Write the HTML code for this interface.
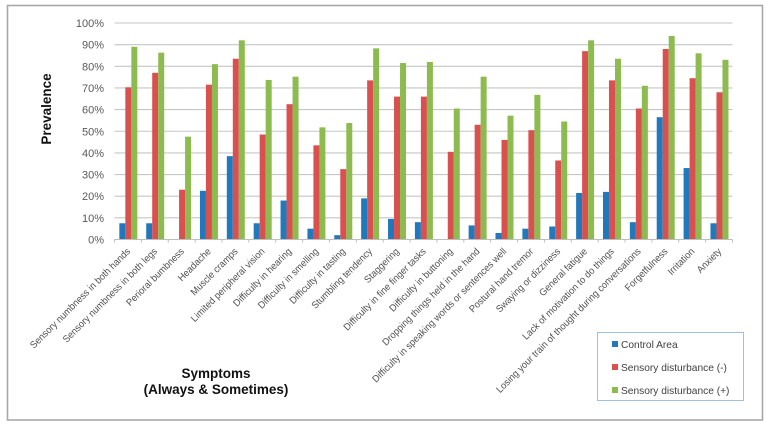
<!DOCTYPE html>
<html lang="en">
<head>
<meta charset="utf-8">
<title>Prevalence of symptoms</title>
<style>
html,body{margin:0;padding:0;background:#fff;width:767px;height:428px;overflow:hidden}
svg{display:block;filter:blur(0.35px)}
text{font-family:"Liberation Sans",sans-serif}
</style>
</head>
<body>
<svg id="chart" xmlns="http://www.w3.org/2000/svg" width="767" height="428" viewBox="0 0 767 428">
  <rect x="7.5" y="5.5" width="755" height="414.5" fill="#fff" stroke="#a8a8a8" stroke-width="1.6"/>
  <g id="grid"></g>
  <g id="bars"></g>
  <g id="axis"></g>
  <g id="ylabels"></g>
  <g id="xlabels"></g>
  <text transform="translate(51,109) rotate(-90)" text-anchor="middle" font-size="13.5" font-weight="bold" fill="#111">Prevalence</text>
  <text text-anchor="middle" font-size="13.5" font-weight="bold" fill="#111"><tspan x="216" y="378">Symptoms</tspan><tspan x="216" y="394">(Always &amp; Sometimes)</tspan></text>
  <g>
    <rect x="597.5" y="332.5" width="146" height="68" fill="#fff" stroke="#9fc0dc" stroke-width="1"/>
    <g>
      <rect x="612" y="341" width="6" height="6" fill="#2079bd"/>
      <text x="621" y="348" font-size="10.2" fill="#404040">Control Area</text>
    </g>
    <g>
      <rect x="612" y="364" width="6" height="6" fill="#d9504f"/>
      <text x="621" y="371" font-size="10.2" fill="#404040">Sensory disturbance (-)</text>
    </g>
    <g>
      <rect x="612" y="387" width="6" height="6" fill="#8dbb4f"/>
      <text x="621" y="394" font-size="10.2" fill="#404040">Sensory disturbance (+)</text>
    </g>
  </g>
</svg>
<script>
const categories = ["Sensory numbness in both hands","Sensory numbness in both legs","Perioral bumbness","Headache","Muscle cramps","Limited peripheral vision","Difficulty in hearing","Difficulty in smelling","Difficulty in tasting","Stumbling tendency","Staggering","Difficulty in fine finger tasks","Difficulty in buttoning","Dropping things held in the hand","Difficulty in speaking words or sentences well","Postural hand tremor","Swaying or dizziness","General fatigue","Lack of motivation to do things","Losing your train of thought during conversations","Forgetfulness","Irritation","Anxiety"];
const controlArea = [7.5,7.5,0,22.5,38.5,7.5,18,5,2,19,9.5,8,0,6.5,3,5,6,21.5,22,8,56.5,33,7.5];
const sensoryMinus = [70.3,77,23,71.5,83.5,48.5,62.5,43.5,32.5,73.5,66,66,40.5,53,46,50.5,36.5,87,73.5,60.5,88,74.5,68];
const sensoryPlus = [89,86.3,47.5,81,92,73.7,75.2,51.8,53.8,88.3,81.5,82,60.5,75.2,57.2,66.8,54.5,92,83.5,71,94,86,83];
const yTicks = [0,10,20,30,40,50,60,70,80,90,100];

const NS = "http://www.w3.org/2000/svg";
const left = 114.5, right = 732.5, top0 = 23, bottom = 239.5;
function y(v){ return bottom - (bottom - top0) * v / 100; }
function band(){ return (right - left) / categories.length; }
function x(i){ return left + band() * i; }
function make(tag, attrs, parent){
  const el = document.createElementNS(NS, tag);
  for (const k in attrs) el.setAttribute(k, attrs[k]);
  parent.appendChild(el);
  return el;
}
const gGrid = document.getElementById("grid");
const gBars = document.getElementById("bars");
const gAxis = document.getElementById("axis");
const gY = document.getElementById("ylabels");
const gX = document.getElementById("xlabels");

yTicks.forEach(function(t){
  if (t > 0) {
    const line = make("line", {x1:left, x2:right, y1:y(t), y2:y(t), stroke:"#c6c6c6", "stroke-width":1.1}, gGrid);
    
    
  }
  const label = make("text", {x:104, y:y(t)+4, "text-anchor":"end", "font-size":11, fill:"#595959"}, gY);
  label.textContent = t + "%";
  
  
});

const seriesList = [
  {values:controlArea, color:"#2079bd"},
  {values:sensoryMinus, color:"#d9504f"},
  {values:sensoryPlus, color:"#8dbb4f"}
];
const barW = 6;
seriesList.forEach(function(s, si){
  s.values.forEach(function(v, i){
    const cx = x(i) + band() / 2 + 0.4;
    const bar = make("rect", {x:cx - 1.5 * barW + si * barW, y:y(v), width:barW, height:Math.max(0, bottom - y(v)), fill:s.color}, gBars);
    
    
  });
});

const baseline = make("line", {x1:left, x2:right, y1:bottom, y2:bottom, stroke:"#bdbdbd", "stroke-width":1}, gAxis);


for (let i = 0; i <= categories.length; i++) {
  const tick = make("line", {x1:x(i), x2:x(i), y1:bottom, y2:bottom+3, stroke:"#bdbdbd", "stroke-width":1}, gAxis);
  
  
}
categories.forEach(function(c, i){
  const px = x(i) + band() / 2 + 3, py = 252;
  const label = make("text", {transform:"translate("+px+","+py+") rotate(-45) scale(0.945,1)", "text-anchor":"end", "font-size":9.8, fill:"#505050"}, gX);
  label.textContent = c;
  
  
});
</script>
</body>
</html>
